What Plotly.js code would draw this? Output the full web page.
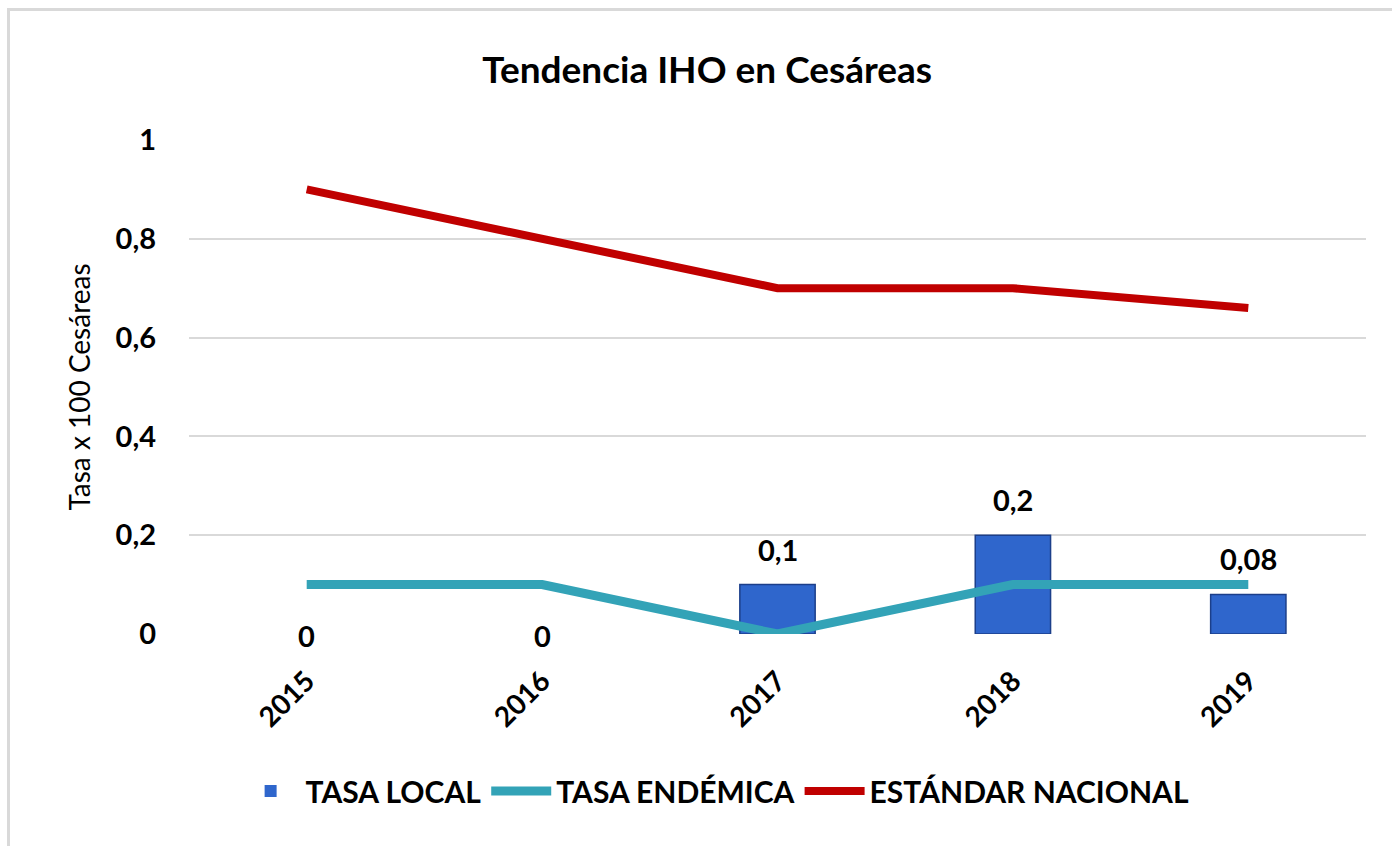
<!DOCTYPE html>
<html>
<head>
<meta charset="utf-8">
<script src="https://cdn.plot.ly/plotly-3.0.1.min.js"></script>
<style>
  html, body { margin: 0; padding: 0; background: #fff; }
  #frame { position: absolute; left: 7px; top: 8px; width: 1390px; height: 850px; border-top: 3px solid #d9d9d9; border-left: 3px solid #d9d9d9; box-sizing: border-box; }
  #chart { position: absolute; left: 0; top: 0; width: 1392px; height: 846px; }
</style>
</head>
<body>
<div id="frame"></div>
<div id="chart"></div>
<script>
const years = ['2015', '2016', '2017', '2018', '2019'];
const tasaLocal = [0, 0, 0.1, 0.2, 0.08];
const tasaEndemica = [0.1, 0.1, 0, 0.1, 0.1];
const estandarNacional = [0.9, 0.8, 0.7, 0.7, 0.66];
const localLabels = ['0', '0', '0,1', '0,2', '0,08'];

const FONT = 'Lato, "Open Sans", sans-serif';

const traces = [
  {
    type: 'bar', name: 'TASA LOCAL', x: years, y: tasaLocal,
    marker: { color: '#2f66cc', line: { color: '#1c3f8a', width: tasaLocal.map(v => v === 0 ? 0 : 1.5) } },
    hoverinfo: 'skip'
  },
  {
    type: 'scatter', mode: 'lines', name: 'TASA ENDÉMICA', x: years, y: tasaEndemica,
    line: { color: '#33a3b7', width: 9 }
  },
  {
    type: 'scatter', mode: 'lines', name: 'ESTÁNDAR NACIONAL', x: years, y: estandarNacional,
    line: { color: '#c00000', width: 8 }
  }
];

const annotations = years.map((yr, i) => ({
  x: i, y: tasaLocal[i], xref: 'x', yref: 'y',
  text: '<b>' + localLabels[i] + '</b>', showarrow: false,
  yanchor: tasaLocal[i] === 0 ? 'middle' : 'bottom',
  yshift: tasaLocal[i] === 0 ? -1 : 16,
  font: { family: FONT, size: 29, color: '#000' }
}));

const layout = {
  width: 1392, height: 846,
  paper_bgcolor: 'rgba(0,0,0,0)', plot_bgcolor: 'rgba(0,0,0,0)',
  margin: { l: 189, r: 26, t: 140, b: 212 },
  separators: ',.',
  title: {
    text: '<b>Tendencia IHO en Cesáreas</b>',
    font: { family: FONT, size: 37, color: '#000' },
    x: 0.508, xanchor: 'center', y: 0.917, yanchor: 'middle'
  },
  xaxis: {
    type: 'category', tickangle: -45, showgrid: false, zeroline: false, showline: false,
    ticks: '', tickfont: { family: FONT, size: 28, color: '#000', weight: 'bold' },
    ticklabelstandoff: 24
  },
  yaxis: {
    range: [0, 1], dtick: 0.2, tick0: 0, showgrid: true, gridcolor: '#d9d9d9', gridwidth: 2,
    zeroline: false, showline: false, ticks: '',
    tickfont: { family: FONT, size: 29, color: '#000', weight: 'bold' },
    ticklabelstandoff: 32,
    title: { text: 'Tasa x 100 Cesáreas', font: { family: FONT, size: 28, color: '#000' }, standoff: 16 }
  },
  showlegend: true,
  legend: {
    orientation: 'h', x: 0.447, xanchor: 'center', y: -0.318, yanchor: 'middle',
    font: { family: FONT, size: 30, color: '#000', weight: 'bold' },
    itemwidth: 60, traceorder: 'normal'
  },
  bargap: 0.68,
  annotations: annotations
};

Plotly.newPlot('chart', traces, layout, { displayModeBar: false, staticPlot: true });
</script>
</body>
</html>
